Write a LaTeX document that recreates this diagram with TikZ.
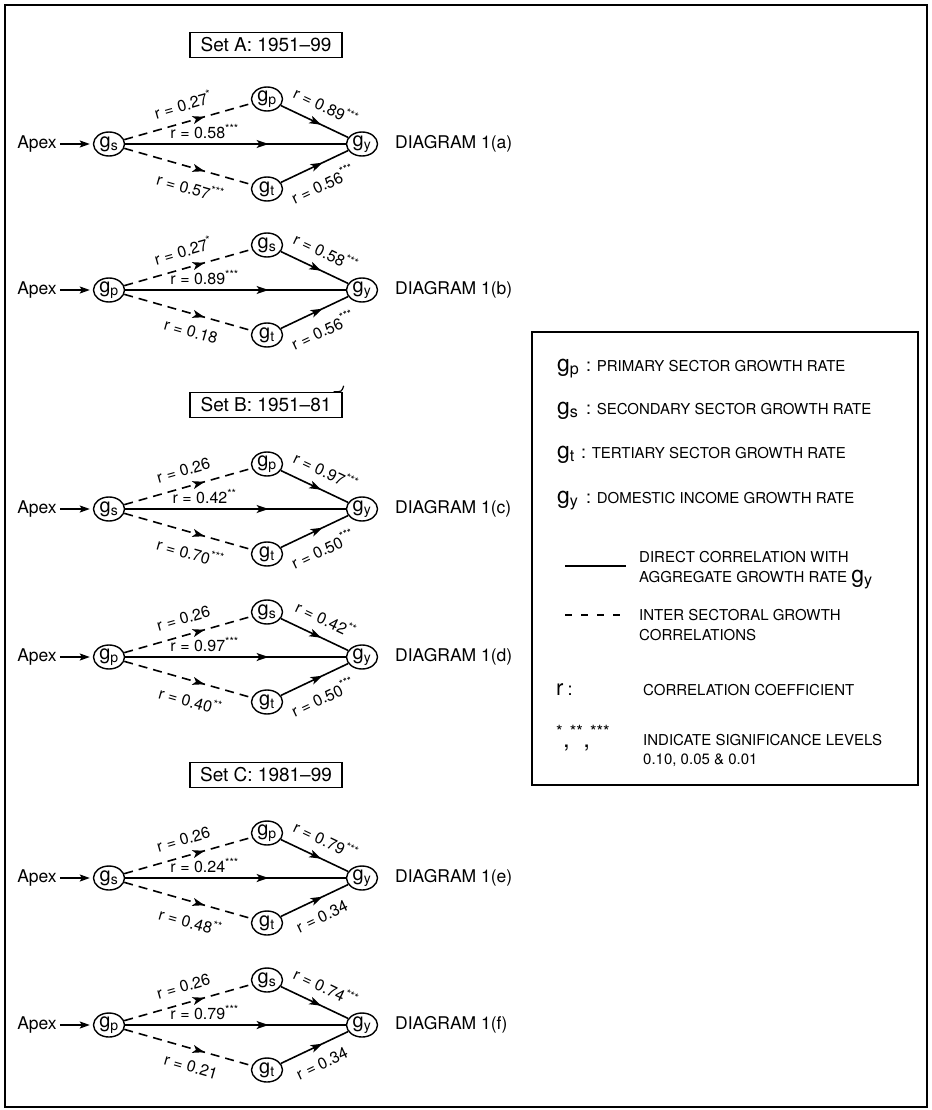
\documentclass[tikz,border=0pt]{standalone}
\usepackage{fontspec}
\setmainfont{TeX Gyre Heros}
\usetikzlibrary{shapes.geometric,arrows.meta,decorations.markings}
\newcommand\gsub[1]{g\textsubscript{#1}}
\newcommand\lgsub[1]{{\fontsize{23}{23}\selectfont g\textsubscript{#1}}}
\newcommand\sig[1]{\textsuperscript{#1}}
\newcommand\diagrow[9]{%
  \node[sec] (L#4) at (109,#1) {\gsub{#2}};
  \node[sec] (T#4) at (267,#1-45) {\gsub{#3}};
  \node[sec] (B#4) at (267,#1+45) {\gsub{t}};
  \node[sec] (Y#4) at (362,#1) {\gsub{y}};
  \node[txt] (A#4) at (37,#1) {Apex};
  \node[txt, anchor=west] (D#4) at (395,#1) {DIAGRAM 1(#4)};
  \draw[solidedge, -{Stealth[length=10pt,width=7pt,inset=2pt]}, shorten <=3pt, shorten >=3pt] (A#4) -- (L#4);
  \draw[dashedge, midarrow=0.63] (L#4) -- node[lab, sloped, above=9pt, pos=0.5] {#5} (T#4);
  \draw[solidedge, midarrow=0.65] (L#4) -- node[lab, above=3pt, pos=0.36] {#6} (Y#4);
  \draw[dashedge, midarrow=0.63] (L#4) -- node[lab, sloped, below=10pt, pos=0.56] {#7} (B#4);
  \draw[solidedge, midarrow=0.6] (T#4) -- node[lab, sloped, above=10pt, pos=0.55] {#8} (Y#4);
  \draw[solidedge, midarrow=0.62] (B#4) -- node[lab, sloped, below=10pt, pos=0.5] {#9} (Y#4);
}
\begin{document}
\begin{tikzpicture}[x=1pt,y=-1pt,
  every node/.style={inner sep=0pt},
  sec/.style={draw, ellipse, line width=1.4pt, minimum width=31pt, minimum height=24pt, inner sep=0pt, font=\fontsize{20}{20}\selectfont},
  lab/.style={font=\fontsize{16}{16}\selectfont, inner sep=1pt},
  solidedge/.style={line width=1.6pt},
  dashedge/.style={line width=1.6pt, dash pattern=on 9pt off 6pt},
  midarrow/.style={postaction={decorate}, decoration={markings, mark=at position #1 with {\arrow{Stealth[length=12pt,width=8pt,inset=3pt]}}}},
  setbox/.style={draw, line width=1.4pt, font=\fontsize{19}{19}\selectfont, minimum width=152pt, minimum height=25pt, inner sep=2pt},
  txt/.style={font=\fontsize{17.5}{18}\selectfont, inner sep=0pt},
  ltxt/.style={font=\fontsize{15}{18}\selectfont, inner sep=0pt, anchor=base west},
]
\useasboundingbox (0,0) rectangle (931,1110);
\draw[line width=1.8pt] (5,5) rectangle (927,1107);

% set headers
\node[setbox] (SA) at (266,45) {Set A: 1951–99};
\node[setbox] (SB) at (266,405) {Set B: 1951–81};
\node[setbox] (SC) at (266,775) {Set C: 1981–99};
\draw[line width=1.2pt] ([xshift=-9pt]SB.north east) .. controls ([xshift=-1pt]SB.north east) .. ([xshift=1pt,yshift=6pt]SB.north east);

% diagrams
\diagrow{144}{s}{p}{a}{r = 0.27\sig{*}}{r = 0.58\sig{***}}{r = 0.57\sig{***}}{r = 0.89\sig{***}}{r = 0.56\sig{***}}
\diagrow{290}{p}{s}{b}{r = 0.27\sig{*}}{r = 0.89\sig{***}}{r = 0.18}{r = 0.58\sig{***}}{r = 0.56\sig{***}}
\diagrow{509}{s}{p}{c}{r = 0.26}{r = 0.42\sig{**}}{r = 0.70\sig{***}}{r = 0.97\sig{***}}{r = 0.50\sig{***}}
\diagrow{657}{p}{s}{d}{r = 0.26}{r = 0.97\sig{***}}{r = 0.40\sig{**}}{r = 0.42\sig{**}}{r = 0.50\sig{***}}
\diagrow{878}{s}{p}{e}{r = 0.26}{r = 0.24\sig{***}}{r = 0.48\sig{**}}{r = 0.79\sig{***}}{r = 0.34}
\diagrow{1025}{p}{s}{f}{r = 0.26}{r = 0.79\sig{***}}{r = 0.21}{r = 0.74\sig{***}}{r = 0.34}

% legend
\draw[line width=1.5pt] (532,332) rectangle (918,785);
\node[ltxt] (k1) at (557,371) {\lgsub{p}};
\node[ltxt] (k1t) at (586,371) {{\fontsize{18}{18}\selectfont :} PRIMARY SECTOR GROWTH RATE};
\node[ltxt] (k2) at (557,414) {\lgsub{s}};
\node[ltxt] (k2t) at (586,414) {{\fontsize{18}{18}\selectfont :} SECONDARY SECTOR GROWTH RATE};
\node[ltxt] (k3) at (557,458) {\lgsub{t}};
\node[ltxt] (k3t) at (581,458) {{\fontsize{18}{18}\selectfont :} TERTIARY SECTOR GROWTH RATE};
\node[ltxt] (k4) at (557,503) {\lgsub{y}};
\node[ltxt] (k4t) at (586,503) {{\fontsize{18}{18}\selectfont :} DOMESTIC INCOME GROWTH RATE};
\draw[line width=1.4pt] (565,566) -- (626,566);
\node[ltxt] (k5a) at (639,562) {DIRECT CORRELATION WITH};
\node[ltxt] (k5b) at (639,582) {AGGREGATE GROWTH RATE \lgsub{y}};
\draw[line width=1.4pt, dash pattern=on 7pt off 9pt] (565,615) -- (620,615);
\node[ltxt] (k6a) at (639,620) {INTER SECTORAL GROWTH};
\node[ltxt] (k6b) at (639,640) {CORRELATIONS};
\node[ltxt] (k7) at (556,695) {{\fontsize{22}{22}\selectfont r} {\fontsize{18}{18}\selectfont :}};
\node[ltxt] (k7t) at (643,695) {CORRELATION COEFFICIENT};
\node[ltxt] (k8) at (556,747) {{\fontsize{24}{24}\selectfont \sig{*},\sig{**},\sig{***}}};
\node[ltxt] (k8a) at (643,745) {INDICATE SIGNIFICANCE LEVELS};
\node[ltxt] (k8b) at (643,764) {0.10, 0.05 \& 0.01};
\end{tikzpicture}
\end{document}
